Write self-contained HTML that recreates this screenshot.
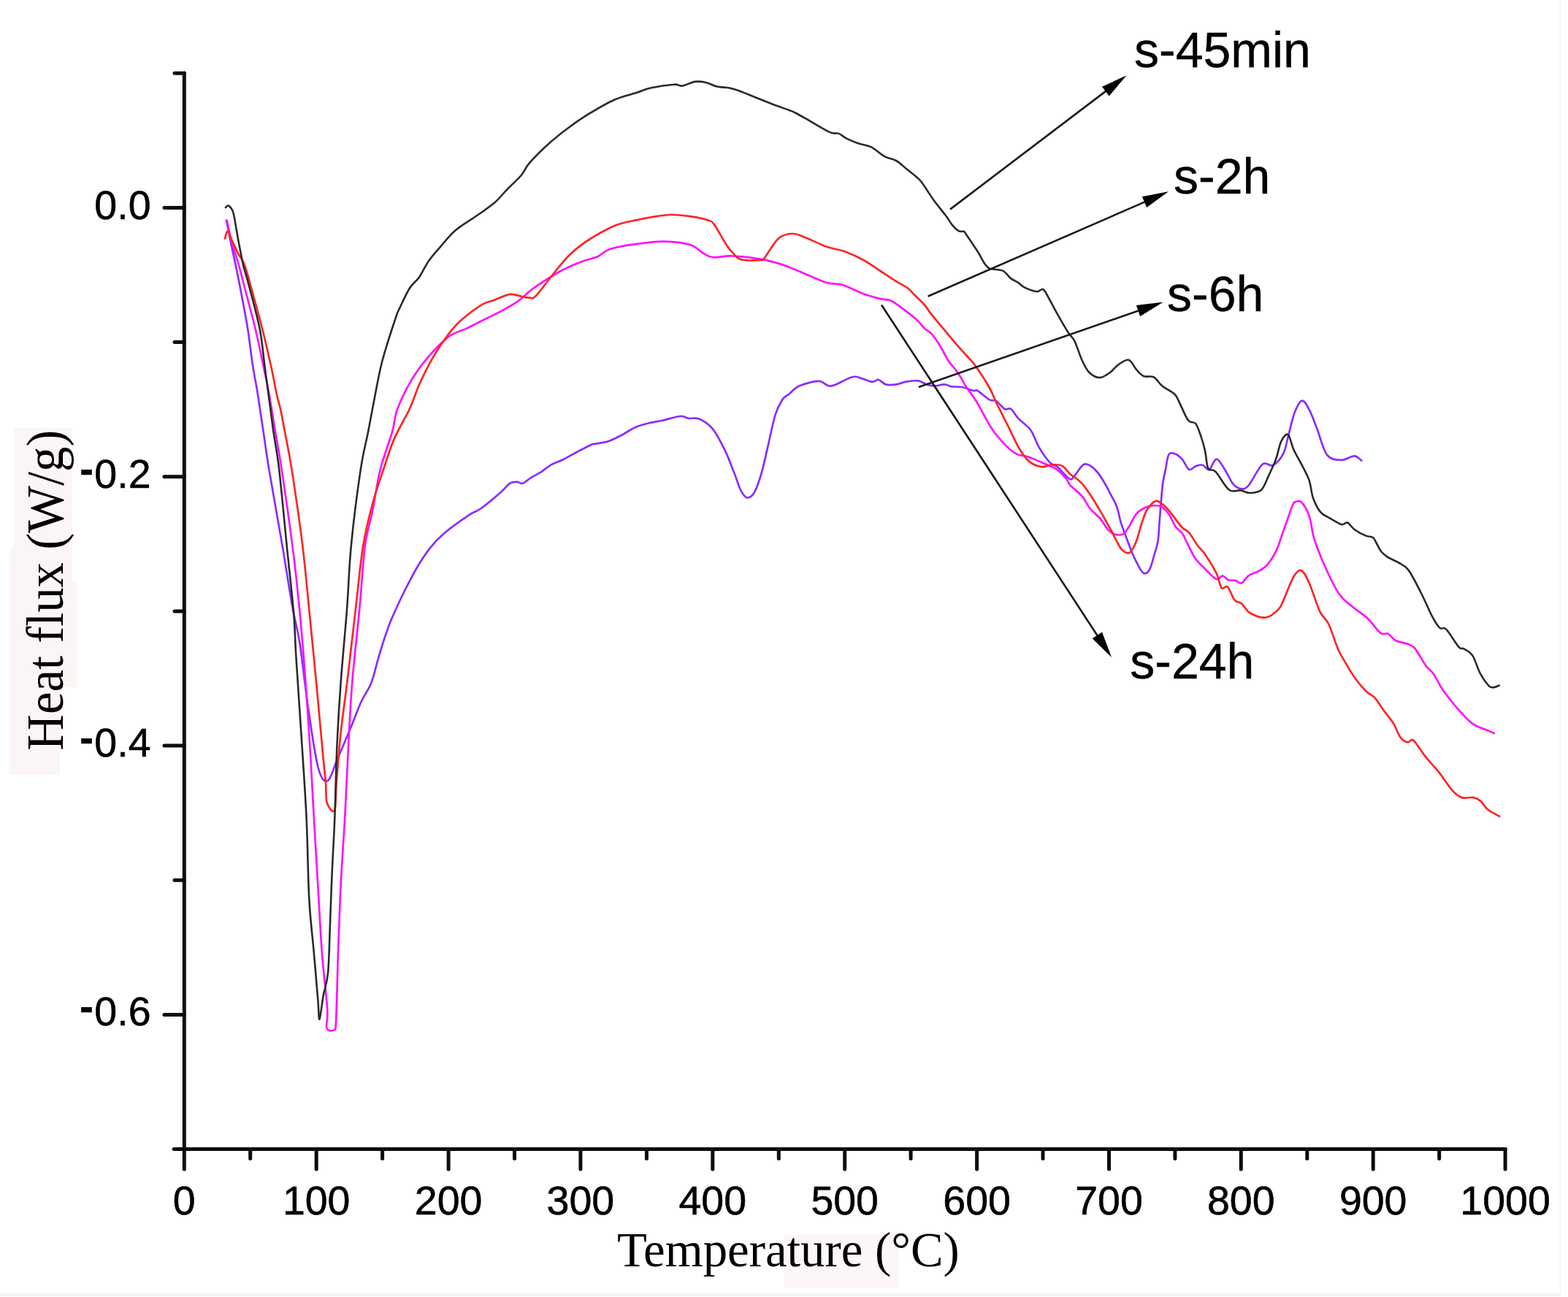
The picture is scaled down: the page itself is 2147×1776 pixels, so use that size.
<!DOCTYPE html>
<html><head><meta charset="utf-8"><title>Heat flux vs Temperature</title>
<style>
html,body{margin:0;padding:0;background:#fff;}
body{width:2147px;height:1776px;overflow:hidden;position:relative;}
svg{position:absolute;left:0;top:0;display:block;}
.tk{font-family:"Liberation Sans",Arial,sans-serif;font-size:55.5px;fill:#000;stroke:#000;stroke-width:0.6px;}
.lb{font-family:"Liberation Sans",Arial,sans-serif;font-size:68px;fill:#000;stroke:#000;stroke-width:0.4px;}
.ti{font-family:"Liberation Serif","Times New Roman",serif;font-size:68px;fill:#000;}
</style></head>
<body>
<svg width="2147" height="1776" viewBox="0 0 2147 1776">
<rect x="0" y="0" width="2147" height="1776" fill="#fff"/>
<!-- faint paste artefacts -->
<path d="M19.5,586 H99 V797 H106 V941 H82 V1061 H13.5 V750 H19.5 Z" fill="#fbf6f5"/>
<rect x="1074" y="1691" width="157" height="72" fill="#fcf7f6"/>
<rect x="0" y="1771" width="2137" height="4" fill="#f5f2f3"/>
<rect x="2135" y="0" width="3" height="1773" fill="#faf7f7"/>
<line x1="252.3" y1="100" x2="252.3" y2="1573.6" stroke="#0d0d0d" stroke-width="5" stroke-linecap="round"/><line x1="238.2" y1="1573.6" x2="2061.1" y2="1573.6" stroke="#0d0d0d" stroke-width="5" stroke-linecap="round"/><line x1="239" y1="100.3" x2="252.3" y2="100.3" stroke="#0d0d0d" stroke-width="5" stroke-linecap="round"/><line x1="225" y1="284.5" x2="252.3" y2="284.5" stroke="#0d0d0d" stroke-width="5" stroke-linecap="round"/><line x1="239" y1="468.6" x2="252.3" y2="468.6" stroke="#0d0d0d" stroke-width="5" stroke-linecap="round"/><line x1="225" y1="652.8" x2="252.3" y2="652.8" stroke="#0d0d0d" stroke-width="5" stroke-linecap="round"/><line x1="239" y1="837.0" x2="252.3" y2="837.0" stroke="#0d0d0d" stroke-width="5" stroke-linecap="round"/><line x1="225" y1="1021.1" x2="252.3" y2="1021.1" stroke="#0d0d0d" stroke-width="5" stroke-linecap="round"/><line x1="239" y1="1205.3" x2="252.3" y2="1205.3" stroke="#0d0d0d" stroke-width="5" stroke-linecap="round"/><line x1="225" y1="1389.4" x2="252.3" y2="1389.4" stroke="#0d0d0d" stroke-width="5" stroke-linecap="round"/><line x1="252.3" y1="1573.6" x2="252.3" y2="1601" stroke="#0d0d0d" stroke-width="5" stroke-linecap="round"/><line x1="342.7" y1="1573.6" x2="342.7" y2="1586.5" stroke="#0d0d0d" stroke-width="5" stroke-linecap="round"/><line x1="433.2" y1="1573.6" x2="433.2" y2="1601" stroke="#0d0d0d" stroke-width="5" stroke-linecap="round"/><line x1="523.6" y1="1573.6" x2="523.6" y2="1586.5" stroke="#0d0d0d" stroke-width="5" stroke-linecap="round"/><line x1="614.1" y1="1573.6" x2="614.1" y2="1601" stroke="#0d0d0d" stroke-width="5" stroke-linecap="round"/><line x1="704.5" y1="1573.6" x2="704.5" y2="1586.5" stroke="#0d0d0d" stroke-width="5" stroke-linecap="round"/><line x1="794.9" y1="1573.6" x2="794.9" y2="1601" stroke="#0d0d0d" stroke-width="5" stroke-linecap="round"/><line x1="885.4" y1="1573.6" x2="885.4" y2="1586.5" stroke="#0d0d0d" stroke-width="5" stroke-linecap="round"/><line x1="975.8" y1="1573.6" x2="975.8" y2="1601" stroke="#0d0d0d" stroke-width="5" stroke-linecap="round"/><line x1="1066.3" y1="1573.6" x2="1066.3" y2="1586.5" stroke="#0d0d0d" stroke-width="5" stroke-linecap="round"/><line x1="1156.7" y1="1573.6" x2="1156.7" y2="1601" stroke="#0d0d0d" stroke-width="5" stroke-linecap="round"/><line x1="1247.1" y1="1573.6" x2="1247.1" y2="1586.5" stroke="#0d0d0d" stroke-width="5" stroke-linecap="round"/><line x1="1337.6" y1="1573.6" x2="1337.6" y2="1601" stroke="#0d0d0d" stroke-width="5" stroke-linecap="round"/><line x1="1428.0" y1="1573.6" x2="1428.0" y2="1586.5" stroke="#0d0d0d" stroke-width="5" stroke-linecap="round"/><line x1="1518.5" y1="1573.6" x2="1518.5" y2="1601" stroke="#0d0d0d" stroke-width="5" stroke-linecap="round"/><line x1="1608.9" y1="1573.6" x2="1608.9" y2="1586.5" stroke="#0d0d0d" stroke-width="5" stroke-linecap="round"/><line x1="1699.3" y1="1573.6" x2="1699.3" y2="1601" stroke="#0d0d0d" stroke-width="5" stroke-linecap="round"/><line x1="1789.8" y1="1573.6" x2="1789.8" y2="1586.5" stroke="#0d0d0d" stroke-width="5" stroke-linecap="round"/><line x1="1880.2" y1="1573.6" x2="1880.2" y2="1601" stroke="#0d0d0d" stroke-width="5" stroke-linecap="round"/><line x1="1970.7" y1="1573.6" x2="1970.7" y2="1586.5" stroke="#0d0d0d" stroke-width="5" stroke-linecap="round"/><line x1="2061.1" y1="1573.6" x2="2061.1" y2="1601" stroke="#0d0d0d" stroke-width="5" stroke-linecap="round"/>
<text x="252.3" y="1663" text-anchor="middle" class="tk">0</text><text x="433.2" y="1663" text-anchor="middle" class="tk">100</text><text x="614.1" y="1663" text-anchor="middle" class="tk">200</text><text x="794.9" y="1663" text-anchor="middle" class="tk">300</text><text x="975.8" y="1663" text-anchor="middle" class="tk">400</text><text x="1156.7" y="1663" text-anchor="middle" class="tk">500</text><text x="1337.6" y="1663" text-anchor="middle" class="tk">600</text><text x="1518.5" y="1663" text-anchor="middle" class="tk">700</text><text x="1699.3" y="1663" text-anchor="middle" class="tk">800</text><text x="1880.2" y="1663" text-anchor="middle" class="tk">900</text><text x="2061.1" y="1663" text-anchor="middle" class="tk">1000</text><text x="206.5" y="299.5" text-anchor="end" class="tk">0.0</text><text x="206.5" y="667.8" text-anchor="end" class="tk"><tspan dy="-7" style="font-weight:bold">-</tspan><tspan dy="7" dx="1.5">0.2</tspan></text><text x="206.5" y="1036.1" text-anchor="end" class="tk"><tspan dy="-7" style="font-weight:bold">-</tspan><tspan dy="7" dx="1.5">0.4</tspan></text><text x="206.5" y="1404.4" text-anchor="end" class="tk"><tspan dy="-7" style="font-weight:bold">-</tspan><tspan dy="7" dx="1.5">0.6</tspan></text>
<text class="ti" style="font-size:72px" transform="translate(86,1027.7) rotate(-90) scale(0.955,1)" x="0" y="0">Heat flux (W/g)</text>
<text class="ti" transform="translate(845,1733.5) scale(0.982,1)" x="0" y="0">Temperature (°C)</text>
<g fill="none" stroke-linejoin="round" stroke-linecap="round">
<path d="M309.9,301.5C310.9,306.6 313.9,321.6 316.0,332.0C318.1,342.4 320.3,351.4 322.8,363.6C325.3,375.8 328.3,390.6 331.0,405.0C333.7,419.4 336.7,434.2 339.2,450.0C341.7,465.8 343.7,485.0 346.0,500.0C348.3,515.0 350.6,524.7 353.0,540.0C355.4,555.3 358.1,574.5 360.7,591.8C363.3,609.1 364.2,617.7 368.5,643.6C372.8,669.5 381.3,716.2 386.6,747.3C391.9,778.4 396.2,807.6 400.2,830.0C404.2,852.4 407.0,858.8 410.6,881.8C414.2,904.8 417.6,940.0 421.8,968.2C426.0,996.4 431.1,1034.2 435.6,1051.0C440.1,1067.8 444.3,1070.9 448.6,1069.2C452.9,1067.5 456.2,1052.9 461.5,1040.7C466.8,1028.5 475.0,1009.0 480.5,995.8C486.0,982.6 489.8,971.4 494.4,961.3C499.0,951.2 504.4,944.8 508.2,935.4C512.0,926.0 514.3,914.2 517.0,905.0C519.7,895.8 521.7,888.6 524.5,880.0C527.3,871.4 530.5,861.8 533.7,853.5C537.0,845.2 540.7,837.2 544.0,830.0C547.3,822.8 548.8,819.3 553.3,810.5C557.8,801.7 565.0,787.2 570.9,777.2C576.8,767.2 582.3,758.6 588.5,750.8C594.7,743.0 599.3,737.8 608.1,730.3C616.9,722.8 632.8,711.5 641.3,705.8C649.8,700.1 651.4,701.4 658.9,696.0C666.4,690.6 679.8,679.2 686.3,673.5C692.8,667.8 694.5,664.1 698.1,661.8C701.7,659.5 705.0,659.8 707.9,659.8C710.8,659.8 712.5,662.8 715.7,661.8C719.0,660.8 723.2,656.5 727.4,653.9C731.6,651.3 736.5,649.0 741.1,646.1C745.7,643.2 749.9,639.1 754.8,636.3C759.7,633.5 764.0,632.8 770.5,629.5C777.0,626.2 787.5,620.2 794.0,616.8C800.5,613.4 806.2,610.4 809.6,608.9C813.0,607.4 810.4,608.7 814.3,607.9C818.2,607.1 826.7,606.3 832.9,604.3C839.1,602.3 845.4,598.8 851.4,595.7C857.4,592.6 862.9,588.3 868.6,585.7C874.3,583.1 879.3,581.7 885.7,580.0C892.1,578.3 899.5,577.4 907.1,575.7C914.7,574.0 925.4,570.5 931.4,570.0C937.4,569.5 938.6,572.3 942.9,572.9C947.2,573.5 951.6,571.2 957.1,573.6C962.6,576.0 969.7,579.9 975.7,587.1C981.7,594.4 987.9,606.9 992.9,617.1C997.9,627.4 1002.1,639.6 1005.7,648.6C1009.3,657.6 1011.4,665.9 1014.3,671.4C1017.2,676.9 1019.8,680.9 1022.9,681.4C1026.0,681.9 1029.6,680.0 1032.9,674.3C1036.2,668.6 1039.8,657.6 1042.9,647.1C1046.0,636.6 1048.3,624.5 1051.4,611.4C1054.5,598.3 1058.1,579.3 1061.4,568.6C1064.7,557.9 1068.3,551.9 1071.4,547.1C1074.5,542.3 1076.2,543.1 1080.0,540.0C1083.8,536.9 1087.5,531.6 1094.3,528.6C1101.1,525.6 1113.7,521.9 1121.0,521.9C1128.3,521.9 1130.5,529.5 1138.1,528.6C1145.7,527.7 1159.7,517.9 1166.7,516.2C1173.7,514.5 1175.4,517.3 1180.0,518.4C1184.6,519.5 1190.5,522.6 1194.3,522.9C1198.1,523.2 1199.8,519.4 1202.9,520.0C1206.0,520.6 1208.9,525.3 1212.9,526.4C1216.9,527.5 1222.6,527.0 1227.1,526.4C1231.6,525.8 1235.0,523.7 1240.0,522.9C1245.0,522.1 1252.3,520.8 1257.1,521.4C1261.9,522.0 1264.8,525.2 1268.6,526.4C1272.4,527.6 1276.0,528.6 1280.0,528.6C1284.0,528.6 1289.1,526.3 1292.9,526.4C1296.7,526.5 1298.9,528.7 1302.9,529.3C1306.9,529.9 1312.1,529.0 1317.1,530.0C1322.1,531.0 1329.3,534.2 1332.9,535.0C1336.5,535.8 1335.0,533.0 1338.6,535.0C1342.2,537.0 1350.0,544.7 1354.3,547.1C1358.6,549.5 1360.7,547.1 1364.3,549.3C1367.9,551.4 1372.4,558.2 1375.7,560.0C1379.0,561.8 1381.2,557.9 1384.3,560.0C1387.4,562.1 1390.2,568.6 1394.3,572.9C1398.3,577.2 1405.3,582.1 1408.6,585.7C1411.9,589.3 1411.9,589.8 1414.3,594.3C1416.7,598.8 1419.1,606.5 1422.9,612.9C1426.7,619.3 1432.8,628.4 1437.1,632.9C1441.4,637.4 1444.0,636.2 1448.6,640.0C1453.1,643.8 1460.6,653.9 1464.4,655.7C1468.2,657.6 1468.4,654.3 1471.5,651.1C1474.6,647.9 1479.5,639.0 1483.0,636.7C1486.5,634.4 1488.9,635.7 1492.2,637.3C1495.5,638.9 1499.3,642.7 1502.6,646.5C1505.9,650.3 1508.9,655.5 1511.8,660.3C1514.7,665.1 1517.0,669.7 1519.9,675.3C1522.8,680.9 1526.6,687.0 1529.1,693.7C1531.6,700.4 1532.9,709.3 1534.8,715.6C1536.7,721.9 1538.1,725.0 1540.6,731.7C1543.1,738.4 1546.9,749.0 1549.8,755.9C1552.7,762.8 1555.2,768.3 1557.9,773.1C1560.6,777.9 1563.2,783.6 1565.9,784.7C1568.6,785.9 1571.5,784.4 1574.0,780.0C1576.5,775.6 1579.0,764.7 1580.9,758.2C1582.8,751.7 1584.3,748.6 1585.5,740.9C1586.7,733.2 1587.0,721.7 1587.8,712.1C1588.6,702.5 1589.3,691.9 1590.1,683.3C1590.9,674.7 1591.4,667.0 1592.4,660.3C1593.4,653.6 1594.6,649.3 1595.9,643.0C1597.2,636.7 1598.2,625.8 1600.5,622.3C1602.8,618.8 1606.6,620.6 1609.7,621.7C1612.8,622.9 1615.8,625.7 1618.9,629.2C1622.0,632.8 1625.0,641.5 1628.1,643.0C1631.2,644.5 1634.2,639.4 1637.3,638.4C1640.4,637.4 1643.4,635.9 1646.5,636.7C1649.6,637.5 1652.5,644.4 1655.7,643.0C1658.9,641.6 1662.1,628.6 1665.7,628.6C1669.3,628.6 1673.3,637.2 1677.1,642.9C1680.9,648.6 1684.8,658.5 1688.6,662.9C1692.4,667.3 1696.4,669.1 1700.0,669.3C1703.6,669.5 1705.2,669.9 1710.0,664.3C1714.8,658.7 1723.1,640.2 1728.6,635.7C1734.1,631.2 1738.2,639.5 1742.9,637.1C1747.7,634.7 1753.5,628.3 1757.1,621.4C1760.7,614.5 1761.7,605.2 1764.3,595.7C1766.9,586.2 1769.8,572.1 1772.9,564.3C1776.0,556.4 1779.6,549.1 1782.9,548.6C1786.2,548.1 1789.6,555.2 1792.9,561.4C1796.2,567.6 1798.9,575.5 1802.9,585.7C1806.9,596.0 1811.4,615.5 1817.1,622.9C1822.8,630.3 1830.9,629.8 1837.1,630.0C1843.3,630.2 1849.8,624.2 1854.3,624.3C1858.8,624.4 1862.6,629.6 1864.3,630.7" stroke="#8a2cff" stroke-width="2.7"/>
<path d="M310.7,302.3C311.8,306.9 314.3,319.8 317.0,330.0C319.7,340.2 323.6,351.1 327.1,363.6C330.6,376.1 334.1,390.6 337.9,405.0C341.6,419.4 345.8,433.9 349.6,450.0C353.4,466.1 357.7,486.8 360.8,501.8C363.9,516.8 365.8,525.0 368.5,540.0C371.2,555.0 374.2,574.5 377.1,591.8C380.0,609.1 381.9,617.7 385.8,643.6C389.7,669.5 396.4,716.2 400.4,747.3C404.4,778.4 406.7,799.0 409.7,830.0C412.7,861.0 415.8,899.1 418.4,933.6C421.0,968.1 423.3,1004.6 425.3,1037.3C427.3,1070.0 428.7,1100.8 430.4,1130.0C432.1,1159.2 433.6,1183.2 435.3,1212.2C437.0,1241.2 438.7,1276.0 440.8,1304.3C442.9,1332.6 447.1,1364.6 448.2,1381.8C449.3,1399.0 445.8,1402.8 447.3,1407.6C448.8,1412.3 455.2,1412.1 457.4,1410.3C459.5,1408.5 459.3,1414.2 460.2,1396.5C461.1,1378.8 461.9,1335.0 463.0,1304.3C464.1,1273.6 465.1,1242.9 466.6,1212.2C468.1,1181.5 470.4,1152.0 472.2,1120.0C473.9,1088.0 475.4,1051.1 477.1,1020.0C478.8,988.9 479.7,965.3 482.3,933.6C484.9,901.9 489.7,861.0 492.6,830.0C495.5,799.0 496.9,769.0 499.8,747.3C502.7,725.6 506.6,717.3 510.0,700.0C513.5,682.7 516.0,661.6 520.5,643.6C525.0,625.6 532.9,605.7 536.9,591.8C540.9,577.9 539.9,571.6 544.2,560.0C548.5,548.4 555.8,533.5 562.6,521.9C569.4,510.3 576.2,500.7 584.8,490.6C593.4,480.5 605.3,467.9 614.2,461.1C623.1,454.4 631.1,453.5 638.2,450.1C645.3,446.7 648.6,444.8 656.6,440.8C664.6,436.8 677.5,430.7 686.1,426.1C694.7,421.5 700.8,418.4 708.2,413.2C715.6,408.0 721.4,401.2 730.3,394.8C739.2,388.4 753.4,379.5 761.7,374.5C770.0,369.5 773.6,367.9 780.0,365.0C786.4,362.1 793.6,359.3 800.0,357.0C806.4,354.7 811.6,354.2 818.1,351.4C824.6,348.6 826.3,343.3 839.0,340.0C851.7,336.7 880.3,332.8 894.3,331.4C908.3,330.0 914.0,330.6 922.9,331.4C931.8,332.2 940.9,333.6 947.6,336.2C954.3,338.8 958.1,344.0 962.9,346.7C967.7,349.4 969.5,351.8 976.2,352.4C982.9,353.0 991.8,350.0 1002.9,350.5C1014.0,351.0 1031.8,353.3 1042.9,355.2C1054.0,357.1 1060.9,359.2 1069.5,361.9C1078.1,364.6 1084.1,367.3 1094.3,371.4C1104.5,375.5 1120.7,383.6 1130.5,386.7C1140.3,389.8 1144.5,387.4 1153.3,390.0C1162.0,392.6 1174.2,399.3 1183.0,402.5C1191.8,405.7 1199.9,407.8 1206.1,409.4C1212.2,410.9 1214.5,409.3 1219.9,411.8C1225.3,414.3 1232.3,420.0 1238.3,424.4C1244.2,428.8 1251.0,434.0 1255.6,438.2C1260.2,442.4 1262.7,446.6 1265.9,449.7C1269.2,452.8 1271.6,452.8 1275.1,456.7C1278.6,460.6 1282.8,466.7 1286.7,472.8C1290.6,478.9 1294.8,488.1 1298.2,493.5C1301.7,498.9 1304.5,501.2 1307.4,505.0C1310.3,508.8 1312.8,512.3 1315.4,516.5C1318.0,520.7 1319.6,524.4 1323.2,530.0C1326.8,535.6 1331.4,540.7 1337.1,550.0C1342.8,559.3 1350.9,576.2 1357.1,585.7C1363.3,595.2 1368.6,601.2 1374.3,607.1C1380.0,613.0 1385.7,618.3 1391.4,621.4C1397.1,624.5 1402.4,623.6 1408.6,625.7C1414.8,627.9 1422.2,631.4 1428.6,634.3C1435.0,637.2 1441.9,639.3 1447.1,642.9C1452.3,646.5 1456.9,652.0 1460.0,655.7C1463.1,659.4 1462.1,660.9 1465.8,664.9C1469.5,668.9 1477.5,674.7 1481.9,679.9C1486.3,685.1 1488.2,691.0 1492.2,696.0C1496.2,701.0 1501.9,704.8 1506.1,709.8C1510.3,714.8 1514.1,722.2 1517.6,725.9C1521.0,729.5 1523.3,730.8 1526.8,731.7C1530.2,732.6 1535.0,733.0 1538.3,731.1C1541.6,729.2 1543.5,724.7 1546.4,720.2C1549.3,715.7 1552.3,708.1 1555.6,704.1C1558.8,700.1 1562.3,697.9 1565.9,696.0C1569.5,694.1 1573.4,692.9 1577.4,692.5C1581.4,692.1 1586.2,691.8 1590.1,693.7C1593.9,695.6 1597.2,699.5 1600.5,704.1C1603.8,708.7 1606.6,716.9 1609.7,721.3C1612.8,725.7 1616.0,726.3 1618.9,730.5C1621.8,734.7 1624.1,741.1 1627.0,746.7C1629.9,752.3 1632.6,758.7 1636.2,763.9C1639.8,769.1 1643.9,772.8 1648.8,777.7C1653.7,782.6 1661.3,791.3 1665.5,793.1C1669.7,794.9 1671.0,788.1 1673.8,788.3C1676.6,788.5 1679.1,793.2 1682.1,794.3C1685.1,795.4 1688.7,794.2 1691.7,794.9C1694.7,795.6 1697.0,799.6 1700.0,798.5C1703.0,797.4 1705.5,791.1 1709.5,788.3C1713.5,785.5 1719.4,784.4 1723.8,781.8C1728.2,779.2 1731.7,777.6 1735.7,772.9C1739.7,768.2 1744.0,761.3 1747.6,753.8C1751.2,746.2 1753.5,737.5 1757.1,727.6C1760.7,717.7 1766.4,700.9 1769.0,694.3C1771.6,687.6 1770.4,688.8 1772.6,687.7C1774.8,686.6 1778.7,684.4 1782.1,687.7C1785.5,691.0 1789.9,698.8 1792.9,707.4C1795.9,716.0 1796.0,727.2 1800.0,739.5C1804.0,751.8 1811.0,768.7 1816.7,781.2C1822.5,793.7 1828.5,806.2 1834.5,814.5C1840.5,822.8 1846.1,825.8 1852.4,831.2C1858.8,836.6 1866.3,840.8 1872.6,846.7C1878.9,852.6 1885.7,863.3 1890.4,866.8C1895.1,870.3 1897.2,866.0 1900.7,867.7C1904.2,869.4 1906.8,874.9 1911.1,877.2C1915.4,879.5 1922.3,879.8 1926.6,881.5C1930.9,883.2 1932.7,882.5 1937.0,887.5C1941.3,892.5 1948.2,905.8 1952.5,911.7C1956.8,917.6 1958.9,917.1 1962.9,922.9C1966.9,928.7 1971.0,938.1 1976.7,946.3C1982.5,954.5 1990.8,964.7 1997.4,972.2C2004.0,979.7 2010.6,986.9 2016.4,991.2C2022.2,995.5 2027.1,996.0 2032.0,998.1C2036.9,1000.2 2043.5,1003.1 2045.8,1004.1" stroke="#ff10ff" stroke-width="2.7"/>
<path d="M308.0,326.5C308.6,324.9 309.9,316.4 311.6,317.0C313.3,317.6 315.6,325.0 318.0,330.0C320.4,335.0 323.1,341.4 326.0,347.0C328.9,352.6 331.7,353.9 335.2,363.6C338.7,373.3 343.0,390.6 347.0,405.0C351.0,419.4 355.1,433.9 359.1,450.0C363.1,466.1 367.9,486.8 371.2,501.8C374.5,516.8 376.8,530.3 378.9,540.0C381.0,549.7 382.1,551.4 384.0,560.0C385.9,568.6 387.5,577.9 390.1,591.8C392.7,605.7 395.6,617.7 399.6,643.6C403.6,669.5 410.4,715.4 414.3,747.3C418.2,779.2 420.2,804.0 423.3,835.0C426.4,866.0 429.8,899.9 433.0,933.6C436.2,967.3 440.3,1014.3 442.5,1037.3C444.7,1060.3 445.1,1061.4 446.0,1071.8C446.9,1082.2 445.7,1093.1 447.7,1099.4C449.7,1105.7 455.9,1114.4 458.1,1109.8C460.3,1105.2 459.3,1089.6 460.7,1071.8C462.1,1054.0 464.2,1025.7 466.7,1002.7C469.1,979.7 471.9,962.4 475.4,933.6C478.8,904.8 483.8,861.0 487.4,830.0C491.0,799.0 493.4,770.6 497.2,747.3C501.0,724.0 505.4,707.3 510.0,690.0C514.6,672.7 519.8,658.5 524.8,643.6C529.8,628.7 534.0,614.3 540.0,600.4C546.0,586.5 555.2,572.1 560.8,560.0C566.4,547.9 568.5,539.1 573.7,527.5C578.9,515.9 585.4,502.3 592.1,490.6C598.9,478.9 607.4,466.3 614.2,457.4C621.0,448.5 625.0,443.9 632.7,437.2C640.4,430.4 653.2,421.2 660.3,416.9C667.4,412.6 669.0,413.7 675.1,411.4C681.2,409.1 691.4,404.2 697.2,403.1C703.0,402.0 705.5,404.1 710.1,404.9C714.7,405.7 720.8,407.7 724.8,407.7C728.8,407.7 728.5,410.4 734.0,404.9C739.5,399.4 750.5,383.6 758.0,374.5C765.5,365.4 771.5,357.3 779.0,350.0C786.5,342.7 792.2,337.4 802.9,330.5C813.5,323.6 831.5,313.5 842.9,308.6C854.3,303.8 863.5,303.2 871.4,301.4C879.3,299.6 882.6,298.8 890.5,297.6C898.4,296.4 909.5,294.1 919.0,294.0C928.5,293.9 939.0,295.4 947.6,296.7C956.2,298.0 965.4,300.2 970.5,302.0C975.6,303.8 974.0,301.9 978.1,307.6C982.2,313.3 990.8,329.5 995.2,336.2C999.7,342.9 1001.6,344.4 1004.8,347.6C1008.0,350.8 1008.3,353.8 1014.3,355.2C1020.3,356.6 1035.6,356.5 1041.0,356.2C1046.4,355.9 1042.6,358.2 1046.7,353.3C1050.8,348.4 1059.4,332.2 1065.7,326.7C1072.0,321.1 1078.5,320.2 1084.8,320.0C1091.1,319.8 1095.9,322.7 1103.8,325.7C1111.7,328.7 1123.5,335.0 1132.4,338.1C1141.3,341.2 1148.7,341.4 1157.1,344.5C1165.5,347.6 1174.8,352.0 1183.0,356.5C1191.2,361.0 1198.4,366.5 1206.1,371.5C1213.8,376.5 1223.0,382.6 1229.1,386.4C1235.2,390.2 1239.1,391.6 1242.9,394.5C1246.7,397.4 1248.3,399.9 1252.1,403.7C1255.9,407.5 1262.1,413.1 1265.9,417.5C1269.7,421.9 1270.7,424.6 1275.1,430.2C1279.5,435.8 1286.6,444.0 1292.4,450.9C1298.2,457.8 1304.5,465.6 1309.7,471.6C1314.9,477.6 1319.1,482.0 1323.5,487.0C1327.9,492.0 1330.9,494.3 1336.0,501.5C1341.1,508.7 1349.3,521.2 1354.3,530.0C1359.2,538.8 1360.9,544.5 1365.7,554.3C1370.5,564.1 1377.9,578.6 1382.9,588.6C1387.9,598.6 1391.4,607.2 1395.7,614.3C1400.0,621.4 1403.6,627.2 1408.6,631.4C1413.6,635.6 1420.5,638.5 1425.7,639.3C1430.9,640.1 1435.2,636.6 1440.0,636.4C1444.8,636.2 1450.0,635.6 1454.3,637.9C1458.6,640.2 1463.1,647.4 1466.0,650.0C1468.9,652.6 1468.7,651.1 1471.5,653.4C1474.3,655.7 1479.2,659.4 1483.0,663.8C1486.8,668.2 1490.3,673.4 1494.5,679.9C1498.7,686.4 1504.2,695.6 1508.4,702.9C1512.6,710.2 1516.5,717.3 1519.9,723.6C1523.4,729.9 1526.4,736.1 1529.1,740.9C1531.8,745.7 1533.1,749.7 1536.0,752.4C1538.9,755.1 1543.1,758.7 1546.4,757.0C1549.7,755.3 1552.7,748.9 1555.6,742.0C1558.5,735.1 1561.1,722.9 1563.6,715.6C1566.1,708.3 1567.4,703.2 1570.5,698.3C1573.6,693.4 1578.5,687.6 1582.0,686.2C1585.5,684.9 1587.8,687.6 1591.3,690.2C1594.8,692.8 1598.4,696.6 1602.8,701.8C1607.2,707.0 1613.5,716.7 1617.7,721.3C1621.9,725.9 1624.4,725.2 1628.1,729.4C1631.8,733.6 1635.9,741.8 1639.6,746.7C1643.2,751.6 1645.7,752.6 1650.0,759.0C1654.3,765.4 1661.7,777.1 1665.5,784.8C1669.3,792.5 1670.0,801.8 1672.6,805.0C1675.2,808.2 1678.0,801.0 1681.0,803.8C1684.0,806.6 1687.3,817.9 1690.5,821.7C1693.7,825.5 1696.4,823.4 1700.0,826.4C1703.6,829.4 1706.4,836.3 1711.9,839.5C1717.5,842.7 1726.8,846.5 1733.3,845.5C1739.8,844.5 1746.8,838.4 1751.2,833.6C1755.6,828.8 1756.1,824.2 1759.5,816.9C1762.9,809.5 1767.6,795.5 1771.4,789.5C1775.2,783.5 1778.5,779.6 1782.1,781.2C1785.7,782.8 1788.7,789.7 1792.9,799.0C1797.1,808.3 1802.8,827.9 1807.1,837.1C1811.4,846.3 1814.8,845.4 1819.0,854.0C1823.2,862.6 1828.4,880.2 1832.2,889.0C1836.0,897.8 1838.1,900.2 1841.9,906.7C1845.7,913.2 1850.0,921.0 1854.8,927.7C1859.6,934.4 1866.3,942.4 1870.9,947.0C1875.5,951.6 1878.4,951.1 1882.2,955.1C1886.0,959.1 1889.2,965.3 1893.5,971.2C1897.8,977.1 1904.0,984.2 1908.0,990.6C1912.0,997.0 1914.5,1005.6 1917.7,1009.9C1920.9,1014.2 1924.3,1015.7 1927.3,1016.4C1930.2,1017.1 1931.4,1010.7 1935.4,1013.9C1939.4,1017.1 1945.6,1028.3 1951.5,1035.7C1957.4,1043.1 1964.7,1050.5 1970.9,1058.3C1977.1,1066.1 1983.5,1076.8 1988.6,1082.4C1993.7,1088.0 1996.7,1090.5 2001.5,1092.1C2006.3,1093.7 2013.3,1091.3 2017.6,1092.1C2021.9,1092.9 2024.1,1094.2 2027.3,1096.9C2030.5,1099.6 2032.6,1104.7 2036.9,1108.2C2041.2,1111.7 2050.4,1116.3 2053.1,1117.9" stroke="#ff2424" stroke-width="2.7"/>
<path d="M309.0,284.2C309.6,283.8 311.2,281.3 312.5,281.6C313.8,281.9 315.7,283.9 317.0,286.0C318.3,288.1 318.6,287.3 320.2,294.5C321.8,301.7 324.1,317.5 326.3,329.0C328.5,340.5 331.0,354.1 333.2,363.6C335.4,373.1 335.8,371.6 339.5,386.0C343.2,400.4 351.8,430.7 355.6,450.0C359.4,469.3 360.1,483.5 362.5,501.8C364.9,520.1 368.3,545.0 370.3,560.0C372.3,575.0 372.5,577.9 374.5,591.8C376.5,605.7 379.3,617.7 382.3,643.6C385.3,669.5 389.4,714.6 392.7,747.3C396.0,780.0 400.1,814.7 402.2,840.0C404.3,865.3 403.7,871.9 405.4,899.0C407.1,926.1 409.9,965.9 412.3,1002.7C414.7,1039.5 417.8,1082.0 419.6,1120.0C421.4,1158.0 421.6,1199.9 423.3,1230.6C425.0,1261.3 427.8,1281.3 429.8,1304.3C431.8,1327.3 434.0,1353.6 435.3,1368.8C436.6,1384.0 436.3,1396.5 437.5,1395.6C438.7,1394.7 440.8,1373.9 442.7,1363.3C444.6,1352.7 447.6,1348.0 449.1,1332.0C450.6,1316.0 451.0,1290.5 451.9,1267.5C452.8,1244.5 453.6,1218.3 454.7,1193.7C455.8,1169.1 457.2,1149.0 458.3,1120.0C459.4,1091.0 460.1,1051.1 461.5,1020.0C462.9,988.9 464.4,964.4 466.7,933.6C468.9,902.8 472.6,866.0 475.0,835.0C477.4,804.0 477.7,779.2 480.8,747.3C483.9,715.4 489.8,669.5 493.7,643.6C497.6,617.7 501.3,605.7 504.0,591.8C506.7,577.9 507.3,574.1 510.0,560.0C512.7,545.9 517.4,520.6 520.3,507.2C523.2,493.8 523.9,491.8 527.6,479.5C531.3,467.2 539.3,442.7 542.4,433.5C545.5,424.3 543.0,430.8 546.1,424.3C549.2,417.9 556.2,402.2 560.8,394.8C565.4,387.4 569.4,386.1 573.7,380.0C578.0,373.9 581.7,364.9 586.6,357.9C591.5,350.8 597.1,344.8 603.2,337.7C609.4,330.6 615.2,322.6 623.5,315.5C631.8,308.4 644.0,301.6 652.9,295.3C661.8,289.0 670.1,283.6 676.9,277.8C683.7,272.0 687.4,266.6 693.5,260.3C699.6,254.0 708.5,246.2 713.7,240.0C718.9,233.8 718.5,230.5 724.8,223.3C731.1,216.1 742.2,204.9 751.4,196.7C760.6,188.4 770.8,180.6 780.0,173.8C789.2,167.0 796.5,161.9 806.7,155.7C816.9,149.5 830.2,141.5 841.0,136.7C851.8,131.9 863.1,129.8 871.4,127.1C879.6,124.4 881.9,122.4 890.5,120.5C899.1,118.6 915.6,116.2 922.9,115.7C930.2,115.2 929.5,118.2 934.3,117.6C939.0,117.0 946.0,112.7 951.4,111.9C956.8,111.1 961.6,111.8 966.7,112.9C971.8,114.0 976.5,117.3 981.9,118.6C987.3,119.9 993.6,119.4 999.0,120.5C1004.4,121.6 1008.6,123.1 1014.3,125.2C1020.0,127.3 1025.4,129.7 1033.3,132.9C1041.2,136.1 1054.0,141.3 1061.9,144.3C1069.9,147.3 1076.3,149.2 1081.0,151.0C1085.7,152.8 1084.9,152.3 1090.0,155.0C1095.1,157.7 1103.6,162.7 1111.4,167.1C1119.2,171.5 1130.9,178.8 1137.1,181.4C1143.3,184.0 1145.0,181.6 1148.6,182.9C1152.2,184.2 1154.1,187.1 1158.6,189.3C1163.1,191.6 1170.0,194.4 1175.7,196.4C1181.4,198.4 1187.0,198.4 1192.9,201.4C1198.9,204.4 1205.7,211.2 1211.4,214.3C1217.1,217.4 1222.1,217.2 1227.1,220.0C1232.1,222.8 1236.2,227.1 1241.4,231.4C1246.7,235.7 1253.8,240.7 1258.6,245.7C1263.4,250.7 1266.7,256.6 1270.0,261.4C1273.3,266.2 1274.5,268.8 1278.6,274.3C1282.6,279.8 1290.0,288.6 1294.3,294.3C1298.6,300.0 1301.2,304.9 1304.3,308.6C1307.4,312.3 1310.3,315.0 1312.9,316.4C1315.5,317.8 1318.1,316.0 1320.0,317.1C1321.9,318.2 1321.2,318.4 1324.3,322.9C1327.4,327.4 1334.5,337.9 1338.6,344.3C1342.6,350.7 1345.8,357.5 1348.6,361.4C1351.4,365.3 1351.7,366.3 1355.7,367.9C1359.8,369.4 1368.1,368.4 1372.9,370.7C1377.7,372.9 1380.7,378.7 1384.3,381.4C1387.9,384.1 1391.2,385.1 1394.3,387.1C1397.4,389.1 1398.6,391.6 1402.9,393.6C1407.2,395.6 1415.7,398.8 1420.0,399.3C1424.3,399.8 1425.5,394.1 1428.6,396.4C1431.7,398.7 1435.3,407.1 1438.6,412.9C1441.9,418.7 1444.5,424.3 1448.6,431.4C1452.6,438.5 1459.1,449.8 1462.9,455.7C1466.7,461.6 1468.3,460.9 1471.4,467.1C1474.5,473.3 1478.1,485.8 1481.4,492.9C1484.7,500.0 1487.4,506.0 1491.4,510.0C1495.5,514.0 1500.9,517.1 1505.7,517.1C1510.5,517.1 1515.7,513.0 1520.0,510.0C1524.3,507.0 1527.1,502.2 1531.4,499.3C1535.7,496.4 1541.7,491.8 1545.7,492.9C1549.8,494.0 1552.4,502.0 1555.7,505.7C1559.0,509.4 1561.7,513.2 1565.7,515.0C1569.8,516.8 1575.7,514.2 1580.0,516.5C1584.3,518.8 1586.6,524.7 1591.4,528.6C1596.2,532.5 1604.5,536.0 1608.6,540.0C1612.6,544.0 1612.6,546.9 1615.7,552.9C1618.8,558.9 1623.5,571.2 1627.1,575.7C1630.7,580.2 1634.2,576.4 1637.1,580.0C1640.0,583.6 1642.1,590.9 1644.3,597.1C1646.5,603.3 1648.3,609.7 1650.0,617.1C1651.7,624.5 1651.9,636.6 1654.3,641.4C1656.7,646.2 1659.5,640.8 1664.3,645.7C1669.1,650.6 1677.2,666.4 1682.9,670.7C1688.6,675.0 1693.8,670.7 1698.6,671.4C1703.3,672.1 1706.7,675.1 1711.4,675.0C1716.2,674.9 1722.8,674.6 1727.1,670.7C1731.4,666.8 1733.8,658.4 1737.1,651.4C1740.4,644.4 1744.2,636.5 1747.1,628.6C1750.0,620.8 1751.5,609.9 1754.3,604.3C1757.0,598.7 1760.8,593.1 1763.6,595.0C1766.4,596.9 1768.0,608.2 1771.4,615.7C1774.9,623.2 1780.7,632.9 1784.3,640.0C1787.9,647.1 1790.6,651.6 1792.9,658.6C1795.2,665.6 1795.4,674.9 1798.0,682.0C1800.6,689.1 1804.4,696.8 1808.3,701.4C1812.2,706.0 1816.6,707.0 1821.4,709.8C1826.2,712.6 1832.9,717.1 1836.9,718.1C1840.9,719.1 1842.2,714.5 1845.2,715.7C1848.2,716.9 1850.6,722.2 1854.8,725.2C1859.0,728.2 1866.0,731.8 1870.2,733.6C1874.4,735.4 1877.2,734.0 1879.8,736.0C1882.4,738.0 1883.8,742.3 1885.7,745.5C1887.6,748.7 1888.5,752.0 1891.0,755.0C1893.5,758.0 1896.6,760.7 1900.5,763.2C1904.4,765.7 1909.8,767.2 1914.5,770.1C1919.2,773.0 1923.2,773.5 1928.4,780.4C1933.6,787.3 1940.1,800.8 1945.6,811.5C1951.1,822.2 1956.9,836.3 1961.2,844.4C1965.5,852.5 1968.3,857.0 1971.5,859.9C1974.7,862.8 1975.9,857.3 1980.2,861.6C1984.5,865.9 1993.4,881.3 1997.4,885.8C2001.4,890.3 2001.2,886.4 2004.4,888.4C2007.6,890.4 2012.7,892.3 2016.4,897.9C2020.1,903.5 2023.0,915.2 2026.8,922.1C2030.5,929.0 2035.7,936.1 2038.9,939.3C2042.1,942.5 2043.5,941.2 2045.8,941.1C2048.1,941.0 2051.5,938.9 2052.7,938.5" stroke="#2a2a2a" stroke-width="2.6"/>
</g>
<line x1="1301" y1="286.6" x2="1517.0" y2="122.6" stroke="#1a1a1a" stroke-width="2.6"/><polygon points="1542.5,103.3 1518.7,131.4 1509.0,118.7" fill="#000"/>
<line x1="1270.6" y1="405.8" x2="1570.7" y2="275.1" stroke="#1a1a1a" stroke-width="2.6"/><polygon points="1600,262.3 1570.2,284.0 1563.8,269.3" fill="#000"/>
<line x1="1257.9" y1="530" x2="1562.3" y2="424.3" stroke="#1a1a1a" stroke-width="2.6"/><polygon points="1592.5,413.8 1561.1,433.2 1555.9,418.1" fill="#000"/>
<line x1="1207" y1="417.5" x2="1504.5" y2="873.2" stroke="#1a1a1a" stroke-width="2.6"/><polygon points="1522,900 1495.6,874.2 1509.0,865.5" fill="#000"/>
<text class="lb" x="1553" y="91.7">s-45min</text>
<text class="lb" x="1607" y="265">s-2h</text>
<text class="lb" x="1598" y="426.4">s-6h</text>
<text class="lb" x="1547.3" y="929.3">s-24h</text>
</svg>
</body></html>
